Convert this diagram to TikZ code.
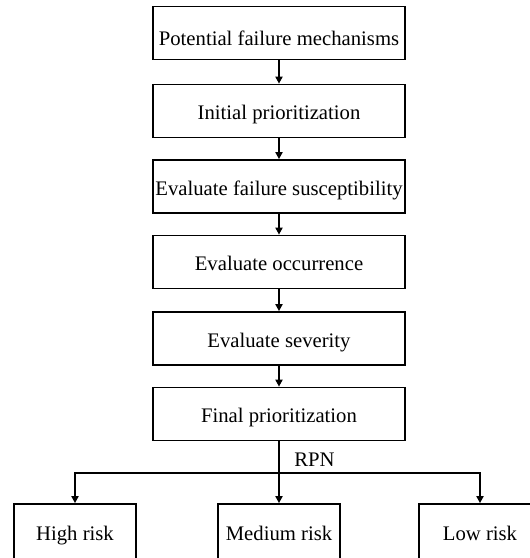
\documentclass[tikz,border=0pt]{standalone}
\usepackage{fontspec}
\setmainfont{Liberation Serif}
\usetikzlibrary{arrows.meta}
\begin{document}
\begin{tikzpicture}[x=1pt,y=-1pt,
  txt/.style={font=\fontsize{20.7}{24}\selectfont, text height=17.6pt, text depth=0pt},
  box/.style={txt, draw, line width=1.7pt, minimum width=252pt, minimum height=53pt,
    inner sep=0pt},
  riskbox/.style={txt, draw, line width=1.7pt, minimum width=122pt, minimum height=56pt,
    inner sep=0pt},
  arr/.style={line width=2.2pt, -{Triangle[length=7pt,width=7pt]}},
  trunk/.style={line width=2.6pt}]
\useasboundingbox (0,0) rectangle (530,558);
\path[clip] (0,0) rectangle (530,558);
\node[box, text height=25pt] (a) at (279,33) {Potential failure mechanisms};
\node[box] (b) at (279,111) {Initial prioritization};
\node[box] (c) at (279,186.5) {Evaluate failure susceptibility};
\node[box] (d) at (279,262) {Evaluate occurrence};
\node[box] (e) at (279,338.5) {Evaluate severity};
\node[box] (f) at (279,414) {Final prioritization};
\node[riskbox] (high) at (75,532) {High risk};
\node[riskbox] (med) at (279,532) {Medium risk};
\node[riskbox] (low) at (480,532) {Low risk};
\coordinate (j) at (279,473);
\node[txt] (rpn) at (314.5,458) {RPN};
\draw[arr] (a) -- (b);
\draw[arr] (b) -- (c);
\draw[arr] (c) -- (d);
\draw[arr] (d) -- (e);
\draw[arr] (e) -- (f);
\draw[trunk] (f.south) -- (j);
\draw[arr] (j) -- (med.north);
\draw[arr] (j) -| (high.north);
\draw[arr] (j) -| (low.north);
\end{tikzpicture}
\end{document}
